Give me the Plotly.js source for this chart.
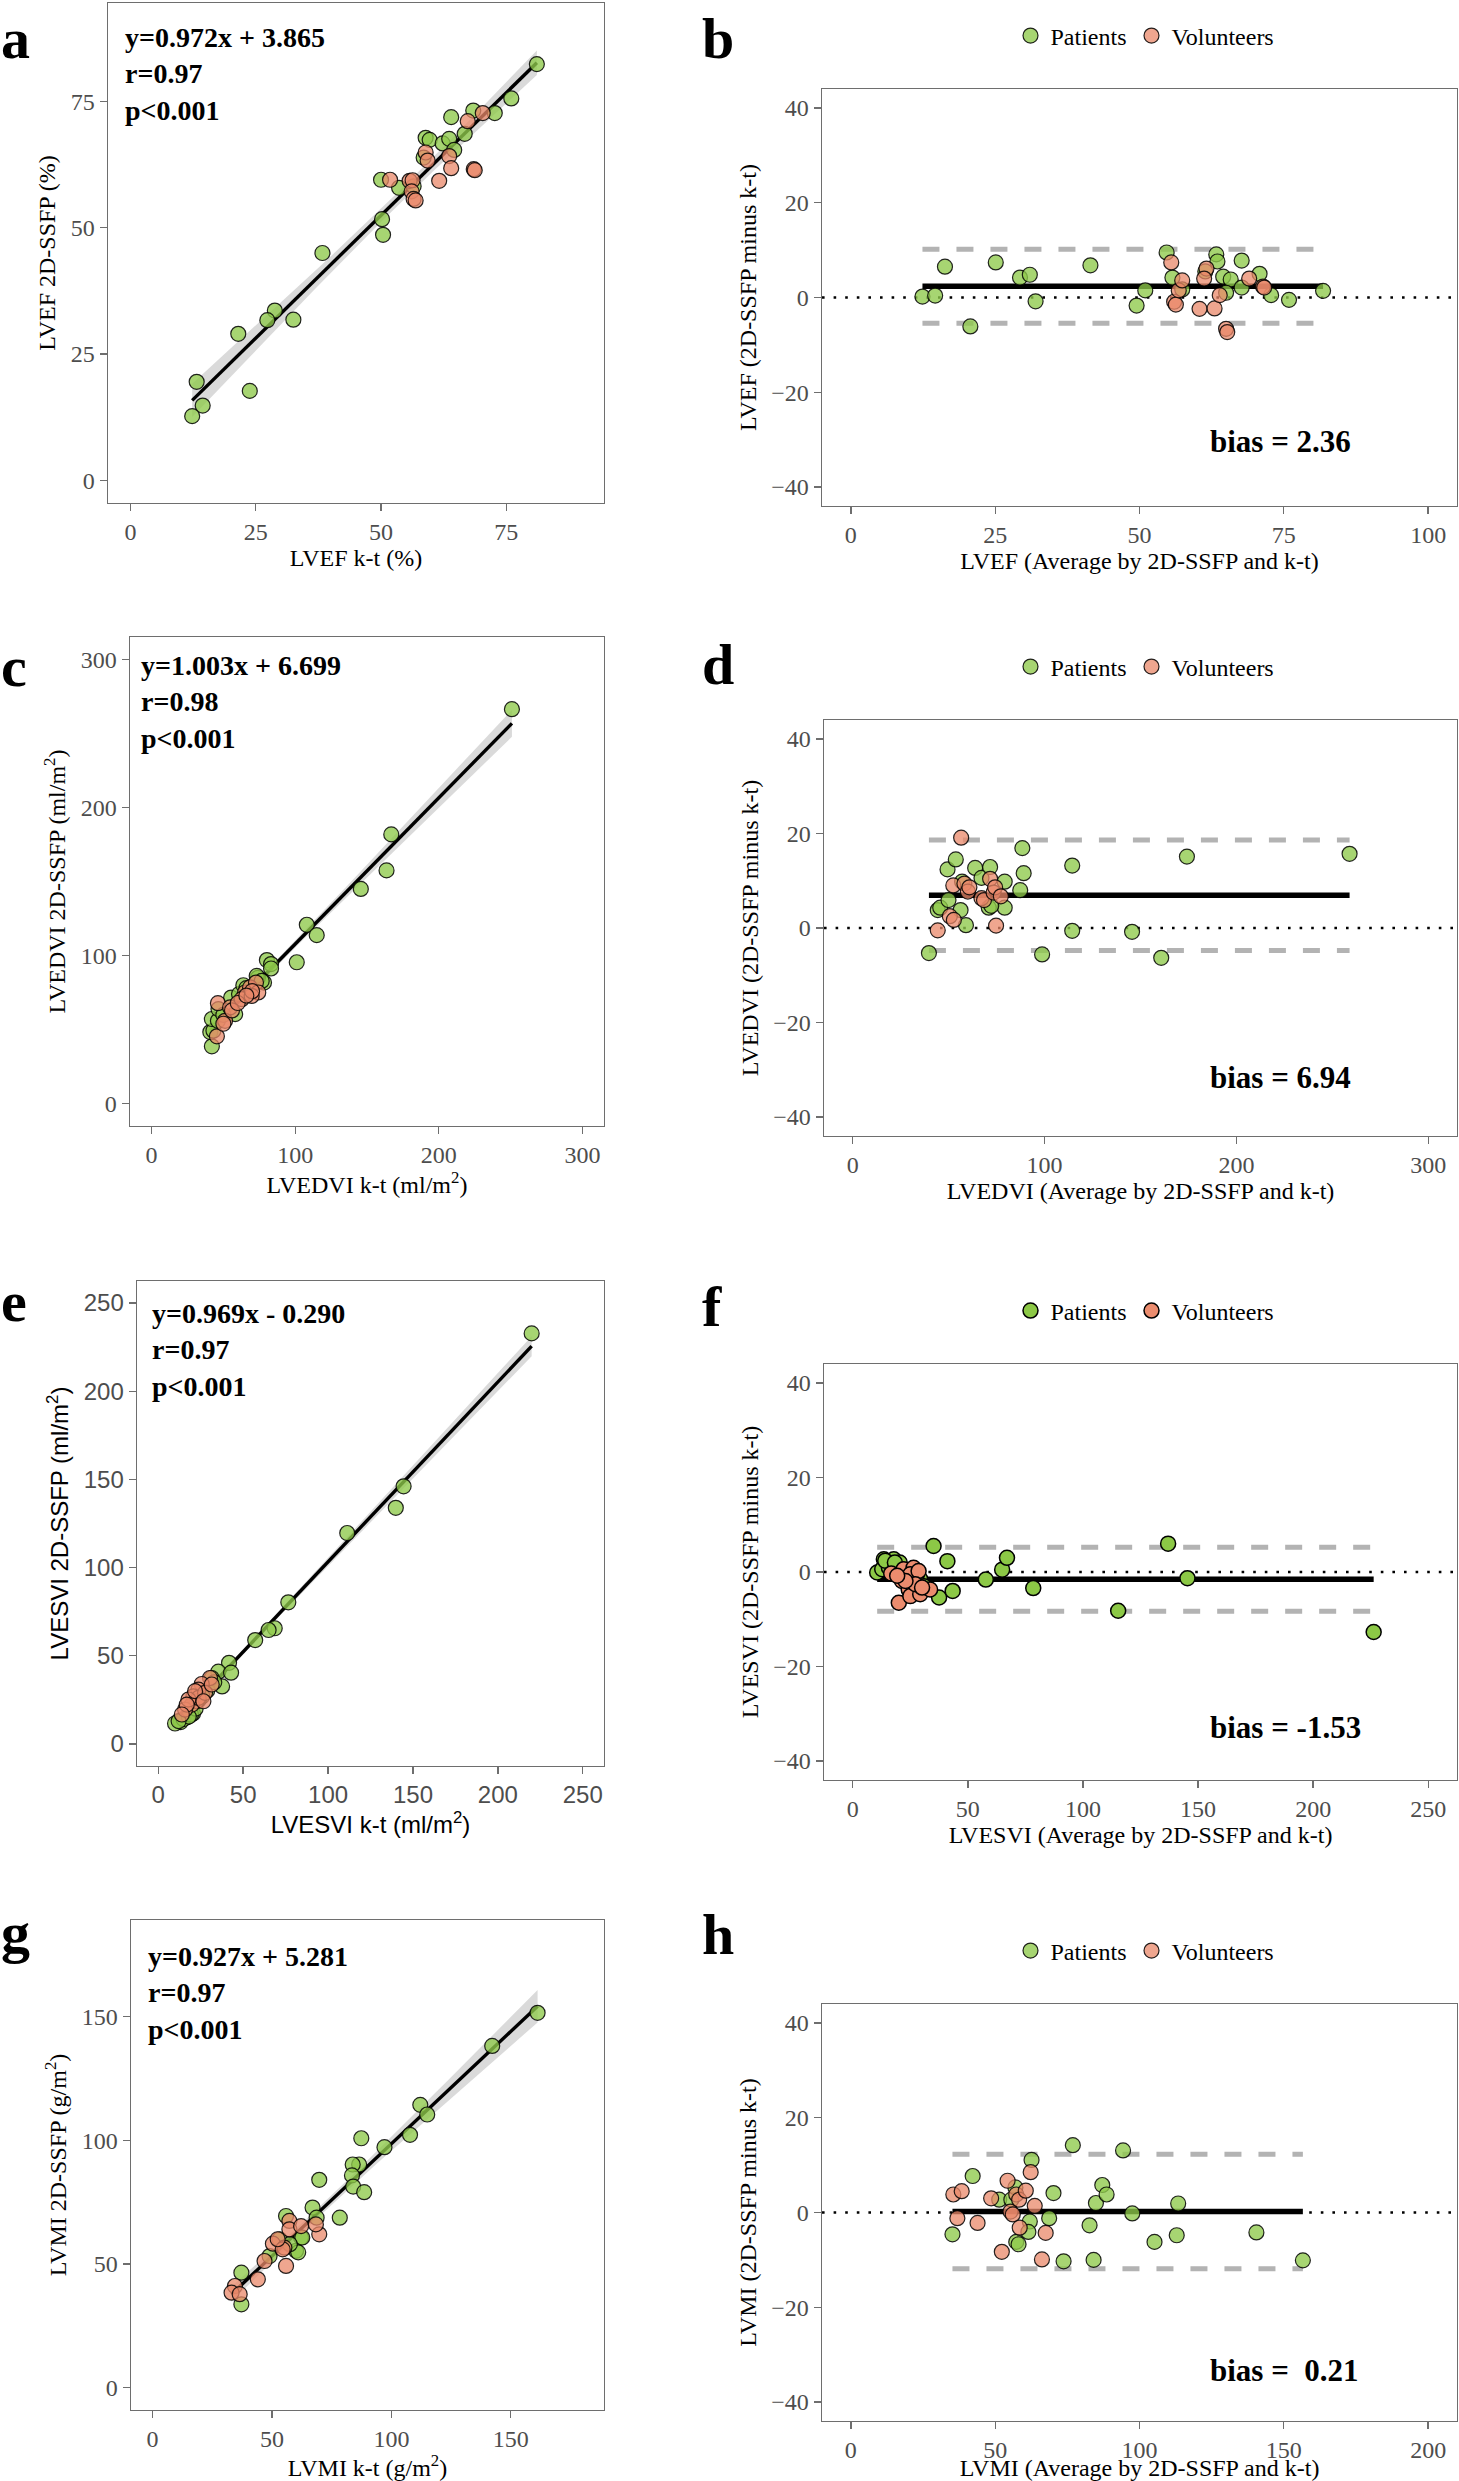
<!DOCTYPE html>
<html>
<head>
<meta charset="utf-8">
<script src="https://cdn.plot.ly/plotly-3.0.1.min.js"></script>
<style>
  body { margin: 0; background: #fff; }
  #fig { width: 1459px; height: 2481px; }
</style>
</head>
<body>
<div id="fig"></div>
<script>
/* valores: k-t vs 2D-SSFP y Bland-Altman */

// a: LVEF
const lvefKtPat   = [81.1,76.0,72.7,68.4,64.0,66.7,58.9,59.7,62.3,63.6,64.6,58.5,50.0,53.6,56.5,50.2,50.4,38.3,28.8,27.3,32.5,21.5,13.2,23.8,14.4,12.3];
const lvefSsfpPat = [82.4,75.6,72.7,73.2,71.9,68.6,67.8,67.4,66.7,67.6,65.4,63.9,59.5,57.9,58.2,51.7,48.6,45.0,33.6,31.7,31.8,29.0,19.5,17.7,14.8,12.7];
const lvefKtVol   = [70.3,67.3,58.9,59.3,63.6,64.0,68.5,68.7,61.6,51.8,55.7,56.3,56.1,56.5,56.9];
const lvefSsfpVol = [72.7,71.1,64.9,63.3,64.2,61.8,61.6,61.4,59.3,59.5,59.3,59.4,57.2,55.7,55.4];
// b: LVEF Bland-Altman
const lvefMeanPat = [12.4,14.6,16.3,20.7,25.1,29.3,31.0,32.0,41.5,49.5,51.0,54.7,55.7,57.4,61.4,63.3,63.5,64.5,65.8,65.0,67.7,67.7,70.8,72.8,75.9,81.8];
const lvefDiffPat = [0.2,0.4,6.5,-6.1,7.4,4.2,4.8,-0.8,6.8,-1.7,1.5,9.5,4.2,1.7,5.5,9.1,7.6,4.4,3.8,1.0,7.8,2.1,5.0,0.5,-0.5,1.4];
const lvefMeanVol = [55.5,56.0,56.3,56.8,57.4,61.6,61.2,60.4,63.0,63.9,65.0,65.2,69.0,71.4,71.6];
const lvefDiffVol = [7.4,-0.9,-1.5,1.5,3.6,6.1,4.0,-2.4,-2.3,0.5,-6.6,-7.3,4.0,2.3,2.1];

// c: LVEDVI
const edviKtPat   = [250.9,166.9,163.6,145.7,108.1,115.0,101.1,80.3,83.2,83.2,78.3,74.0,42.0,40.9,43.1,42.0,46.2,58.2,46.6,55.4,60.9,63.9,73.2,76.7,50,66];
const edviSsfpPat = [266.3,181.8,157.5,145.0,120.8,113.8,95.5,97.0,94.3,91.3,81.8,85.0,38.8,48.4,49.3,57.2,56.0,60.5,63.9,71.7,74.0,80.0,86.3,82.9,60,78];
const edviKtVol   = [46.2,54.7,51.2,45.5,65.1,68.6,72.7,74.3,62.8,69.7,56,60,70,50,66];
const edviSsfpVol = [67.9,65.0,56.0,45.5,75.1,78.5,81.8,75.1,70.6,72.8,63,68,76,54,73];
// d: LVEDVI Bland-Altman
const edviMeanPat = [39.7,44.3,45.6,49.4,53.7,49.9,56.2,57.0,59.0,63.8,67.1,71.6,70.9,79.2,79.2,87.3,88.4,89.1,98.7,114.4,114.4,145.6,160.8,174.2,259.0,72.2];
const edviDiffPat = [-5.3,3.8,4.3,12.4,14.5,5.9,3.8,9.8,0.6,12.7,10.6,12.9,4.3,9.8,4.3,8.0,16.9,11.6,-5.6,13.2,-0.6,-0.8,-6.3,15.1,15.7,4.7];
const edviMeanVol = [56.5,44.3,50.6,52.7,52.4,58.2,60.0,60.8,67.1,68.4,71.6,73.4,74.2,74.7,77.2];
const edviDiffVol = [19.1,-0.5,2.5,1.7,9.0,9.4,7.7,8.6,6.3,5.9,10.4,7.5,8.6,0.5,6.7];

// e: LVESVI
const esviKtPat   = [219.9,144.5,139.9,111.3,76.6,68.6,65.0,57.1,41.7,35.4,42.9,37.6,28.9,20.5,16.9,13.2,9.9,14.9,19.3,31.5,22,26,18,12,24,33];
const esviSsfpPat = [232.8,146.1,133.9,119.6,80.3,65.6,64.6,58.9,46.0,41.0,40.4,32.6,30.3,17.2,15.1,12.4,11.6,14.1,16.6,37.4,20,27,15.5,13,25,35];
const esviKtVol   = [30.5,25.6,23.7,20.7,22.7,19.8,15.8,23.7,27.6,17.8,16.8,21.7,31.5,26.6,13.9];
const esviSsfpVol = [37.4,34.0,30.8,27.0,24.2,22.3,19.5,26.1,29.0,25.2,22.3,29.9,33.7,24.2,16.7];
// f: LVESVI Bland-Altman
const esviMeanPat = [10.6,13.5,17.8,12.8,15.7,29.3,35.1,41.1,37.5,43.4,57.8,64.9,67.0,78.4,115.3,137.0,145.4,226.3,26.7,20.4,27.7,14.1,18.3,24,31];
const esviDiffPat = [-0.1,2.7,2.7,0.6,0.9,-1.5,5.5,2.3,-5.4,-4.0,-1.6,0.5,3.0,-3.4,-8.2,6.0,-1.3,-12.7,-1.8,2.0,-0.8,2.4,2.0,-2.5,-3];
const esviMeanVol = [16.7,20.0,22.1,26.4,25.0,21.4,24.3,25.0,29.3,33.6,28.6,27.2,22.9,30.1,19.3];
const esviDiffVol = [-0.3,-6.5,0.6,0.9,-0.5,-1.9,-3.7,-5.1,-4.7,-3.7,0.2,-2.6,-1.9,-3.3,-0.8];

// g: LVMI
const lvmiKtPat   = [161.2,142.2,112.1,115.0,107.8,97.1,87.4,86.5,83.8,83.5,84.0,88.6,69.8,78.4,67.0,68.7,55.9,62.2,60.1,49.0,37.2,37.2,53.2,61.0,62.7,57.5];
const lvmiSsfpPat = [151.5,138.1,114.3,110.4,102.2,97.2,100.8,90.2,90.2,85.8,81.3,79.0,84.0,68.7,72.8,68.7,69.4,60.7,55.3,53.2,46.5,33.7,60.0,54.7,60.7,58];
const lvmiKtVol   = [57.3,57.3,62.2,69.8,68.4,50.4,55.2,54.5,55.9,46.9,44.1,34.5,33.1,36.5,52.4];
const lvmiSsfpVol = [67.4,64.0,65.3,62.0,66.0,58.2,56.6,55.9,49.2,51.2,43.8,41.1,38.4,37.8,60.0];
// h: LVMI Bland-Altman
const lvmiMeanPat = [35.2,42.2,51.4,55.6,57.0,62.6,62.0,61.5,57.3,58.1,68.7,70.2,73.7,76.9,82.7,84.1,84.9,87.1,88.6,94.3,97.5,105.2,112.9,113.4,140.5,156.6];
const lvmiDiffPat = [-4.6,7.7,2.7,2.7,5.3,11.1,-1.9,-4.1,-6.2,-6.7,-1.2,4.1,-10.3,14.2,-2.7,-10.0,2.0,5.8,3.8,13.1,-0.2,-6.2,-4.8,1.9,-4.2,-10.1];
const lvmiMeanVol = [35.5,38.4,36.9,43.9,48.6,52.3,54.3,55.3,56.1,57.3,58.3,58.5,60.6,62.3,63.7,66.2,67.5];
const lvmiDiffVol = [3.8,4.5,-1.2,-2.2,3.0,-8.3,6.7,0.2,-0.4,3.8,2.7,-3.2,4.6,8.5,1.4,-9.9,-4.3];

// estadisticos impresos en el grafico
const slopes     = [0.972, 1.003, 0.969, 0.927];
const intercepts = [3.865, 6.699, -0.290, 5.281];
const rValues    = ['0.97', '0.98', '0.97', '0.97'];
const biasValues = [2.36, 6.94, -1.53, 0.21];
const loaUpper   = [10.16, 18.64, 5.22, 12.31];
const loaLower   = [-5.44, -4.76, -8.28, -11.89];
const biasLabels = ['bias = 2.36', 'bias = 6.94', 'bias = -1.53', 'bias =\u00a0 0.21'];
const panelLetters = ['a', 'b', 'c', 'd', 'e', 'f', 'g', 'h'];

const W = 1459, H = 2481;
const SERIF = 'Liberation Serif, Times New Roman, serif';
const SANS = 'Liberation Sans, Arial, sans-serif';

function hdom(l, r) { return [l / W, r / W]; }
function vdom(t, b) { return [1 - b / H, 1 - t / H]; }
function py(p) { return 1 - p / H; }

const traces = [];
const annotations = [];
const shapes = [];
const layout = {
    width: W, height: H,
    margin: {l: 0, r: 0, t: 0, b: 0},
    paper_bgcolor: '#fff', plot_bgcolor: '#fff',
    annotations: annotations, shapes: shapes,
    showlegend: true
};

function makeAxis(dom, range, dtick, title, font, anchor, standoff) {
    return {
        domain: dom, range: range, dtick: dtick, tick0: 0, anchor: anchor,
        showgrid: false, zeroline: false,
        showline: true, mirror: true, linecolor: '#6e6e6e', linewidth: 1.4,
        ticks: 'outside', ticklen: 7, tickwidth: 1.3, tickcolor: '#6e6e6e',
        tickfont: {family: font, size: 24, color: '#4d4d4d'},
        title: {text: title, font: {family: font, size: 24, color: '#000'}, standoff: standoff},
        fixedrange: true
    };
}

function markers(x, y, fill, strong, name, xa, ya, legendKey) {
    return {
        type: 'scatter', mode: 'markers', x: x, y: y, name: name,
        xaxis: xa, yaxis: ya,
        marker: {size: 15, color: fill, line: {color: strong ? '#000' : 'rgba(0,0,0,0.85)', width: strong ? 1.5 : 1.2}},
        showlegend: !!legendKey, legend: legendKey || 'legend',
        hoverinfo: 'x+y'
    };
}

const GREEN = 'rgba(142,201,74,0.78)', SALMON = 'rgba(234,136,105,0.75)';
const GREEN_S = 'rgb(140,200,70)', SALMON_S = 'rgb(235,140,110)';

/* paneles de correlacion (a, c, e, g) */
const scatterPanels = [
    {i: 1, kx: lvefKtPat, sy: lvefSsfpPat, vx: lvefKtVol, vy: lvefSsfpVol, box: [108, 604, 3, 503],
     range: [-4.5, 94.5], dtick: 25, xt: 'LVEF k-t (%)', yt: 'LVEF 2D-SSFP (%)', font: SERIF, text: [123, 20], letter: 38},
    {i: 3, kx: edviKtPat, sy: edviSsfpPat, vx: edviKtVol, vy: edviSsfpVol, box: [130, 604, 637, 1126],
     range: [-15, 315], dtick: 100, xt: 'LVEDVI k-t (ml/m<sup>2</sup>)', yt: 'LVEDVI 2D-SSFP (ml/m<sup>2</sup>)', font: SERIF, text: [139, 648], letter: 666},
    {i: 5, kx: esviKtPat, sy: esviSsfpPat, vx: esviKtVol, vy: esviSsfpVol, box: [137, 604, 1281, 1766],
     range: [-12.5, 262.5], dtick: 50, xt: 'LVESVI k-t (ml/m<sup>2</sup>)', yt: 'LVESVI 2D-SSFP (ml/m<sup>2</sup>)', font: SANS, text: [150, 1296], letter: 1302},
    {i: 7, kx: lvmiKtPat, sy: lvmiSsfpPat, vx: lvmiKtVol, vy: lvmiSsfpVol, box: [131, 604, 1920, 2410],
     range: [-9, 189], dtick: 50, xt: 'LVMI k-t (g/m<sup>2</sup>)', yt: 'LVMI 2D-SSFP (g/m<sup>2</sup>)', font: SERIF, text: [146, 1939], letter: 1932}
];

scatterPanels.forEach(function (p, k) {
    const xa = 'x' + p.i, ya = 'y' + p.i;
    layout['xaxis' + p.i] = makeAxis(hdom(p.box[0], p.box[1]), p.range, p.dtick, p.xt, p.font, ya, 2);
    layout['yaxis' + p.i] = makeAxis(vdom(p.box[2], p.box[3]), p.range, p.dtick, p.yt, p.font, xa, 8);

    // ajuste por minimos cuadrados sobre los puntos (como geom_smooth(method = lm))
    const allX = p.kx.concat(p.vx), allY = p.sy.concat(p.vy);
    const n = allX.length;
    const xbar = allX.reduce((s, v) => s + v, 0) / n;
    const ybar = allY.reduce((s, v) => s + v, 0) / n;
    const sxx = allX.reduce((s, v) => s + (v - xbar) * (v - xbar), 0);
    const sxy = allX.reduce((s, v, j) => s + (v - xbar) * (allY[j] - ybar), 0);
    const b = sxy / sxx, a = ybar - b * xbar;
    const sres = Math.sqrt(allY.reduce((s, v, j) => s + Math.pow(v - (b * allX[j] + a), 2), 0) / (n - 2));
    const xmin = Math.min.apply(null, allX), xmax = Math.max.apply(null, allX);

    // banda de confianza 95%
    const bx = [], up = [], lo = [];
    for (let s = 0; s <= 40; s++) {
        const xv = xmin + (xmax - xmin) * s / 40;
        const se = sres * Math.sqrt(1 / n + (xv - xbar) * (xv - xbar) / sxx);
        bx.push(xv); up.push(b * xv + a + 2.02 * se); lo.push(b * xv + a - 2.02 * se);
    }
    traces.push({type: 'scatter', mode: 'lines', x: bx.concat(bx.slice().reverse()), y: up.concat(lo.slice().reverse()),
        fill: 'toself', fillcolor: 'rgba(150,150,150,0.35)', line: {width: 0}, xaxis: xa, yaxis: ya,
        showlegend: false, hoverinfo: 'skip'});
    traces.push({type: 'scatter', mode: 'lines', x: [xmin, xmax], y: [b * xmin + a, b * xmax + a],
        line: {color: '#000', width: 3.4}, xaxis: xa, yaxis: ya, showlegend: false, hoverinfo: 'skip'});
    traces.push(markers(p.kx, p.sy, GREEN, false, 'Patients', xa, ya, null));
    traces.push(markers(p.vx, p.vy, SALMON, false, 'Volunteers', xa, ya, null));

    const sl = slopes[k], ic = intercepts[k];
    const eq = 'y=' + sl.toFixed(3) + 'x ' + (ic < 0 ? '- ' : '+ ') + Math.abs(ic).toFixed(3);
    annotations.push({xref: 'paper', yref: 'paper', x: p.text[0] / W, y: py(p.text[1]), xanchor: 'left', yanchor: 'top',
        align: 'left', showarrow: false, text: eq + '<br>r=' + rValues[k] + '<br>p&lt;0.001',
        font: {family: SERIF, size: 28, color: '#000', weight: 'bold'}});
    annotations.push({xref: 'paper', yref: 'paper', x: 0, y: py(p.letter), xanchor: 'left', yanchor: 'middle',
        showarrow: false, borderpad: 0, text: '<b>' + panelLetters[p.i - 1] + '</b>', font: {family: SERIF, size: 58, color: '#000'}});
});

/* paneles Bland-Altman (b, d, f, h) */
const baPanels = [
    {i: 2, mx: lvefMeanPat, dy: lvefDiffPat, vx: lvefMeanVol, vy: lvefDiffVol, box: [822, 1457, 89, 506],
     xr: [-5, 105], xd: 25, xt: 'LVEF (Average by 2D-SSFP and k-t)', yt: 'LVEF (2D-SSFP minus k-t)', legY: 36, biasY: 441, letter: 38, strong: false},
    {i: 4, mx: edviMeanPat, dy: edviDiffPat, vx: edviMeanVol, vy: edviDiffVol, box: [824, 1457, 720, 1136],
     xr: [-15, 315], xd: 100, xt: 'LVEDVI (Average by 2D-SSFP and k-t)', yt: 'LVEDVI (2D-SSFP minus k-t)', legY: 667, biasY: 1077, letter: 664, strong: false},
    {i: 6, mx: esviMeanPat, dy: esviDiffPat, vx: esviMeanVol, vy: esviDiffVol, box: [824, 1457, 1364, 1780],
     xr: [-12.5, 262.5], xd: 50, xt: 'LVESVI (Average by 2D-SSFP and k-t)', yt: 'LVESVI (2D-SSFP minus k-t)', legY: 1311, biasY: 1727, letter: 1306, strong: true},
    {i: 8, mx: lvmiMeanPat, dy: lvmiDiffPat, vx: lvmiMeanVol, vy: lvmiDiffVol, box: [822, 1457, 2004, 2421],
     xr: [-10, 210], xd: 50, xt: 'LVMI (Average by 2D-SSFP and k-t)', yt: 'LVMI (2D-SSFP minus k-t)', legY: 1951, biasY: 2370, letter: 1934, strong: false}
];

baPanels.forEach(function (p, k) {
    const xa = 'x' + p.i, ya = 'y' + p.i;
    layout['xaxis' + p.i] = makeAxis(hdom(p.box[0], p.box[1]), p.xr, p.xd, p.xt, SERIF, ya, 2);
    layout['yaxis' + p.i] = makeAxis(vdom(p.box[2], p.box[3]), [-44, 44], 20, p.yt, SERIF, xa, 8);

    const allX = p.mx.concat(p.vx);
    const xmin = Math.min.apply(null, allX), xmax = Math.max.apply(null, allX);

    shapes.push({type: 'line', layer: 'below', xref: xa + ' domain', yref: ya, x0: 0, x1: 1, y0: 0, y1: 0,
        line: {color: '#000', width: 2.6, dash: '2.6px,9px'}});
    [loaUpper[k], loaLower[k]].forEach(function (v) {
        traces.push({type: 'scatter', mode: 'lines', x: [xmin, xmax], y: [v, v], xaxis: xa, yaxis: ya,
            line: {color: '#b3b3b3', width: 5, dash: '17px,17px'}, showlegend: false, hoverinfo: 'skip'});
    });
    traces.push({type: 'scatter', mode: 'lines', x: [xmin, xmax], y: [biasValues[k], biasValues[k]], xaxis: xa, yaxis: ya,
        line: {color: '#000', width: 5.5}, showlegend: false, hoverinfo: 'skip'});

    const legKey = k === 0 ? 'legend' : 'legend' + (k + 1);
    traces.push(markers(p.mx, p.dy, p.strong ? GREEN_S : GREEN, p.strong, 'Patients', xa, ya, legKey));
    traces.push(markers(p.vx, p.vy, p.strong ? SALMON_S : SALMON, p.strong, 'Volunteers', xa, ya, legKey));

    layout[legKey] = {orientation: 'h', x: 1145 / W, xanchor: 'center', y: py(p.legY), yanchor: 'middle',
        font: {family: SERIF, size: 24, color: '#000'}, bgcolor: 'rgba(0,0,0,0)', itemclick: false, itemdoubleclick: false};

    annotations.push({xref: 'paper', yref: 'paper', x: 1208 / W, y: py(p.biasY), xanchor: 'left', yanchor: 'middle',
        showarrow: false, text: biasLabels[k], font: {family: SERIF, size: 31, color: '#000', weight: 'bold'}});
    annotations.push({xref: 'paper', yref: 'paper', x: 701 / W, y: py(p.letter), xanchor: 'left', yanchor: 'middle',
        showarrow: false, borderpad: 0, text: '<b>' + panelLetters[p.i - 1] + '</b>', font: {family: SERIF, size: 58, color: '#000'}});
});

Plotly.newPlot('fig', traces, layout, {staticPlot: true, responsive: false});
</script>
</body>
</html>
